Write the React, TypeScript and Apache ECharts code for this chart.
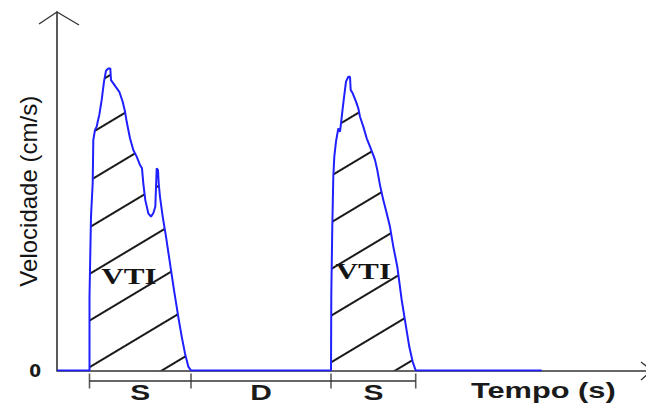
import React, { useEffect, useRef } from 'react';
import * as echarts from 'echarts';

// Doppler velocity trace (time in ms from axis origin, velocity in cm/s)
const baselineStart: [number, number] = [0, 0];
const sWave1: [number, number][] = [
  [32.5, 0], [32.5, 24.6], [34, 51.3], [35.7, 62.5], [36.3, 76.8], [38, 80.2],
  [39.7, 81.3], [40.7, 82.9], [42.3, 85.2], [44.7, 90.2], [47, 96.3], [49, 99.9],
  [51.3, 100.7], [53.3, 100.7], [54, 96.8], [56.3, 95.7], [59.7, 94.1], [62.3, 92.9],
  [65.7, 89.6], [68, 86.3], [69.7, 82.9], [73, 77.4], [76.3, 73.5], [79.7, 71.3],
  [83, 68.5], [85, 67.4], [86.3, 62.4], [88.3, 56.8], [91.3, 52.4], [94, 51.3],
  [96.3, 52.4], [98.3, 54.6], [99.7, 67.4], [101, 66.8], [101.7, 62.4], [103, 57.9],
  [105.7, 51.3], [109, 44.6], [113, 35.7], [117, 26.8], [121.3, 17.9], [124.7, 11.3],
  [128, 5.7], [131.3, 1.3], [134, 0],
];
const sWave2: [number, number][] = [
  [274, 0], [274.3, 25.7], [275.3, 47.9], [276.3, 64.6], [277.3, 71.3], [279, 76.3],
  [281.3, 80.7], [283, 79.6], [284, 82.4], [285.7, 87.4], [287.3, 91.8], [289, 96.3],
  [291.3, 97.9], [293, 97.9], [293.7, 93.5], [295.7, 92.4], [299, 89.6], [301.3, 87.4],
  [303, 84.6], [306.3, 81.3], [309.7, 77.4], [313, 74.6], [316.3, 71.8], [318, 70.2],
  [320.3, 66.8], [323, 61.8], [326.3, 56.8], [329.7, 52.4], [333, 47.9], [336.3, 41.3],
  [340.3, 34.6], [344.7, 23.5], [349, 14.6], [352.3, 7.9], [355.7, 2.9], [358.7, 0],
];
const baselineEnd: [number, number] = [484.7, 0];

const phaseBounds = [32.5, 134, 274, 358.7];
const phaseLabels = ['S', 'D', 'S'];
const vtiAnchors: [number, number][] = [[72, 31.5], [306.3, 33.1]];
const vtiText = 'VTI';
const yAxisName = 'Velocidade (cm/s)';
const xAxisName = 'Tempo (s)';
const yTickLabel = '0';

export default function App() {
  const ref = useRef<HTMLDivElement>(null);
  useEffect(() => {
    const chart = echarts.init(ref.current as HTMLDivElement, null, { renderer: 'svg' });
    const trace = [baselineStart, ...sWave1, ...sWave2, baselineEnd];
    const mids = phaseLabels.map((_, i) => [(phaseBounds[i] + phaseBounds[i + 1]) / 2, -2.15]);
    const axisColor = '#333';
    chart.setOption({
      animation: false,
      grid: [
        { left: 57, right: 0, top: 12, bottom: 34.5, outerBoundsMode: 'none', containLabel: false },
        { left: 57, right: 0, top: 371, height: 30, outerBoundsMode: 'none', containLabel: false },
      ],
      xAxis: [
        {
          type: 'value', gridIndex: 0, min: 0, max: 589,
          axisLine: { show: true, onZero: false, lineStyle: { color: axisColor, width: 1.6 } },
          axisTick: { show: false }, axisLabel: { show: false }, splitLine: { show: false },
        },
        { type: 'value', gridIndex: 1, min: 0, max: 589, show: false },
      ],
      yAxis: [
        {
          type: 'value', gridIndex: 0, min: 0, max: 119.5,
          name: yAxisName, nameLocation: 'middle', nameRotate: 90, nameGap: 17, nameMoveOverlap: false,
          nameTextStyle: { fontFamily: "Arial, 'Liberation Sans', sans-serif", fontSize: 24, color: '#141414' },
          axisLine: { show: true, lineStyle: { color: axisColor, width: 1.6 } },
          axisTick: { show: false }, splitLine: { show: false },
          axisLabel: {
            formatter: (v: number) => (v === 0 ? yTickLabel : ''),
            margin: 16, fontFamily: 'DejaVu Sans', fontWeight: 'bold', fontSize: 17, color: '#1a1a1a',
          },
        },
        { type: 'value', gridIndex: 1, min: -3, max: 0, show: false },
      ],
      graphic: [
        { type: 'polyline', shape: { points: [[39, 24], [57, 12], [79, 25]] }, style: { stroke: axisColor, lineWidth: 1.3, fill: null } },
        { type: 'polyline', shape: { points: [[641, 362], [652, 370.5], [641, 380]] }, style: { stroke: axisColor, lineWidth: 1.3, fill: null } },
        {
          type: 'text', x: 543.3, y: 391, scaleX: 1.4,
          style: { text: xAxisName, font: "bold 22px Arial, 'Liberation Sans', sans-serif", align: 'center', verticalAlign: 'middle', fill: '#1a1a1a' },
        },
      ],
      series: [
        {
          type: 'line', xAxisIndex: 0, yAxisIndex: 0, data: trace, showSymbol: false, z: 3,
          lineStyle: { color: '#1f1fff', width: 2 },
          itemStyle: {
            color: '#1f1fff',
            decal: { symbol: 'rect', symbolSize: 1, color: '#1a1a1a', dashArrayX: [1, 0], dashArrayY: [1.1, 38], rotation: -0.54 },
          },
          areaStyle: { color: 'rgba(255,255,255,0)', opacity: 1 },
        },
        {
          type: 'custom', xAxisIndex: 0, yAxisIndex: 0, data: vtiAnchors, z: 4, silent: true,
          renderItem: (params: any, api: any) => {
            const p = api.coord([api.value(0), api.value(1)]);
            return {
              type: 'text', x: p[0], y: p[1], scaleX: 1.3,
              style: { text: vtiText, font: "bold 24px 'Liberation Serif', 'Times New Roman', serif", align: 'center', verticalAlign: 'middle', fill: '#141414' },
            };
          },
        },
        {
          type: 'line', xAxisIndex: 1, yAxisIndex: 1, showSymbol: false, silent: true,
          data: [[phaseBounds[0], -1], [phaseBounds[phaseBounds.length - 1], -1]],
          lineStyle: { color: axisColor, width: 1.4 },
        },
        {
          type: 'scatter', xAxisIndex: 1, yAxisIndex: 1, silent: true,
          data: phaseBounds.map((b) => [b, -1]), symbol: 'rect', symbolSize: [1.6, 15],
          itemStyle: { color: axisColor },
        },
        {
          type: 'custom', xAxisIndex: 1, yAxisIndex: 1, data: mids, silent: true,
          renderItem: (params: any, api: any) => {
            const p = api.coord([api.value(0), api.value(1)]);
            return {
              type: 'text', x: p[0], y: p[1], scaleX: 1.36,
              style: { text: phaseLabels[params.dataIndex], font: "bold 22px Arial, 'Liberation Sans', sans-serif", align: 'center', verticalAlign: 'middle', fill: '#1a1a1a' },
            };
          },
        },
      ],
    });
    return () => chart.dispose();
  }, []);
  return <div ref={ref} style={{ position: 'absolute', left: 0, top: 0, width: 646, height: 405 }} />;
}
